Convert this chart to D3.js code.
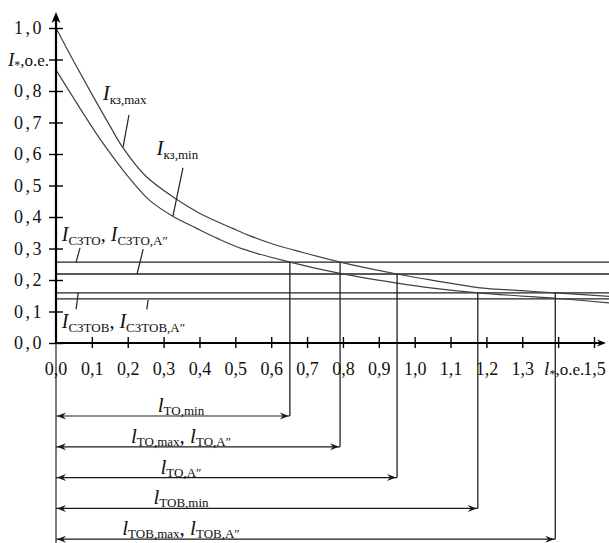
<!DOCTYPE html>
<html>
<head>
<meta charset="utf-8">
<title>Токи КЗ и зоны защиты</title>
<script src="https://d3js.org/d3.v7.min.js"></script>
<style>
  body { margin: 0; background: #fff; }
  svg text { font-family: "Liberation Serif", "Times New Roman", serif; fill: #111; }
</style>
</head>
<body>
<svg width="609" height="543"></svg>
<script>
// values: l* (o.e.) and I* (o.e.)
var lMax = [0, 0.05, 0.10, 0.15, 0.186, 0.25, 0.336, 0.40, 0.494, 0.541, 0.60, 0.68, 0.792, 0.951, 1.05, 1.176, 1.30, 1.392, 1.545];
var iMax = [1.000, 0.893, 0.790, 0.690, 0.621, 0.530, 0.456, 0.412, 0.363, 0.340, 0.316, 0.290, 0.257, 0.219, 0.199, 0.176, 0.166, 0.159, 0.148];

var lMin = [0, 0.067, 0.123, 0.20, 0.262, 0.322, 0.392, 0.45, 0.522, 0.652, 0.792, 0.951, 1.05, 1.176, 1.30, 1.392, 1.545];
var iMin = [0.867, 0.745, 0.647, 0.530, 0.452, 0.405, 0.364, 0.332, 0.298, 0.257, 0.221, 0.190, 0.174, 0.159, 0.149, 0.142, 0.127];

// settings currents (horizontal lines)
var levels = [0.257, 0.219, 0.159, 0.140];

// protection zones: length and the current level where the drop line starts
var zoneLen = [0.652, 0.792, 0.951, 1.176, 1.392];
var zoneLevel = [0.257, 0.257, 0.219, 0.159, 0.159];
var zoneSubs = [["ТО,min"], ["ТО,max", "ТО,A″"], ["ТО,A″"], ["ТОВ,min"], ["ТОВ,max", "ТОВ,A″"]];

var xTicks = [0, 0.1, 0.2, 0.3, 0.4, 0.5, 0.6, 0.7, 0.8, 0.9, 1.0, 1.1, 1.2, 1.3, 1.4, 1.5];
var xTickLabels = ["0,0", "0,1", "0,2", "0,3", "0,4", "0,5", "0,6", "0,7", "0,8", "0,9", "1,0", "1,1", "1,2", "1,3", "", "1,5"];
var yTicks = [0, 0.1, 0.2, 0.3, 0.4, 0.5, 0.6, 0.7, 0.8, 0.9, 1.0];
var yTickLabels = ["0,0", "0,1", "0,2", "0,3", "0,4", "0,5", "0,6", "0,7", "0,8", "", "1,0"];

var svg = d3.select("svg");
var x = d3.scaleLinear().domain([0, 1.5]).range([56, 594]);
var y = d3.scaleLinear().domain([0, 1]).range([343, 28]);

var rowY0 = 416, rowStep = 30.8;
var ink = "#1a1a1a";

// horizontal setting lines
svg.selectAll(".lvl").data(levels).enter().append("line")
  .attr("x1", x(0)).attr("x2", 609)
  .attr("y1", function(d) { return y(d); }).attr("y2", function(d) { return y(d); })
  .attr("stroke", "#222").attr("stroke-width", 1.3);

// curves
var line = d3.line()
  .x(function(d) { return x(d[0]); })
  .y(function(d) { return y(d[1]); })
  .curve(d3.curveCatmullRom.alpha(0.5));

svg.append("path").datum(d3.zip(lMax, iMax)).attr("d", line)
  .attr("fill", "none").attr("stroke", "#404040").attr("stroke-width", 1.2);
svg.append("path").datum(d3.zip(lMin, iMin)).attr("d", line)
  .attr("fill", "none").attr("stroke", "#404040").attr("stroke-width", 1.2);

// drop lines and dimension arrows
function head(tx, ty, dir) {
  return "M" + tx + "," + ty +
    "L" + (tx - dir * 9) + "," + (ty - 3.5) +
    "L" + (tx - dir * 6) + "," + ty +
    "L" + (tx - dir * 9) + "," + (ty + 3.5) + "Z";
}

zoneLen.forEach(function(l, i) {
  var ry = rowY0 + i * rowStep;
  svg.append("line")
    .attr("x1", x(l)).attr("x2", x(l))
    .attr("y1", y(zoneLevel[i])).attr("y2", ry)
    .attr("stroke", "#222").attr("stroke-width", 1.3);
  svg.append("line")
    .attr("x1", x(0)).attr("x2", x(l))
    .attr("y1", ry).attr("y2", ry)
    .attr("stroke", ink).attr("stroke-width", 1.2);
  svg.append("path").attr("d", head(x(0) + 1, ry, -1)).attr("fill", ink);
  svg.append("path").attr("d", head(x(l) - 1, ry, 1)).attr("fill", ink);
});

// axes
svg.append("line").attr("x1", x(0)).attr("x2", x(0)).attr("y1", y(0)).attr("y2", 543)
  .attr("stroke", "#222").attr("stroke-width", 1.2);
svg.append("line").attr("x1", x(0)).attr("x2", x(0)).attr("y1", y(0) + 1).attr("y2", 16)
  .attr("stroke", "#000").attr("stroke-width", 2.2);
svg.append("line").attr("x1", x(0) - 1).attr("x2", 602).attr("y1", y(0)).attr("y2", y(0))
  .attr("stroke", "#000").attr("stroke-width", 2.2);
svg.append("path").attr("d", "M" + x(0) + ",12L" + (x(0) - 4.5) + ",23L" + x(0) + ",20L" + (x(0) + 4.5) + ",23Z").attr("fill", "#000");
svg.append("path").attr("d", head(606, y(0), 1)).attr("fill", "#000");

var gx = svg.append("g").attr("transform", "translate(0," + y(0) + ")")
  .call(d3.axisBottom(x).tickValues(xTicks.slice(1)).tickSize(0)
    .tickFormat(function(d) { return xTickLabels[xTicks.indexOf(d)]; }));
gx.select(".domain").remove();
gx.selectAll(".tick line").attr("y1", -6).attr("y2", 5).attr("stroke", "#000").attr("stroke-width", 1.4);
gx.selectAll(".tick text").attr("y", 32).attr("dy", 0).attr("font-size", 18).attr("fill", "#111")
  .attr("font-family", "Liberation Serif, serif");
svg.append("text").attr("x", x(0)).attr("y", y(0) + 32).attr("text-anchor", "middle")
  .attr("font-size", 18).text(xTickLabels[0]);

var gy = svg.append("g").attr("transform", "translate(" + x(0) + ",0)")
  .call(d3.axisLeft(y).tickValues(yTicks).tickSize(0).tickPadding(12)
    .tickFormat(function(d) { return yTickLabels[yTicks.indexOf(d)]; }));
gy.select(".domain").remove();
gy.selectAll(".tick line").attr("x1", -7).attr("x2", 7).attr("stroke", "#000").attr("stroke-width", 1.4);
gy.selectAll(".tick text").attr("font-size", 18).attr("letter-spacing", "2.5px").attr("fill", "#111")
  .attr("font-family", "Liberation Serif, serif");

// rich labels: italic letter + subscript
function label(x0, y0, anchor, letter, subs, big, small, shift) {
  var t = svg.append("text").attr("x", x0).attr("y", y0).attr("text-anchor", anchor);
  subs.forEach(function(s, i) {
    if (i > 0) t.append("tspan").attr("font-size", big).attr("dy", -shift).text(",\u00a0");
    t.append("tspan").attr("font-size", big).attr("font-style", "italic").text(letter);
    t.append("tspan").attr("font-size", small).attr("dy", shift).text(s);
  });
  return t;
}

// axis titles
var ty = svg.append("text").attr("x", 49).attr("y", y(0.9) + 6).attr("text-anchor", "end");
ty.append("tspan").attr("font-size", 19).attr("font-style", "italic").text("I");
ty.append("tspan").attr("font-size", 12).attr("dy", 3).text("*");
ty.append("tspan").attr("font-size", 17).attr("dy", -3).text(",o.e.");

var tx = svg.append("text").attr("x", x(1.4) + 6).attr("y", y(0) + 32).attr("text-anchor", "middle");
tx.append("tspan").attr("font-size", 19).attr("font-style", "italic").text("l");
tx.append("tspan").attr("font-size", 12).attr("dy", 3).text("*");
tx.append("tspan").attr("font-size", 17).attr("dy", -3).text(",o.e.");

// curve labels with leaders
label(x(0.13), y(0.772), "start", "I", ["кз,max"], 21, 13, 4);
label(x(0.28), y(0.596), "start", "I", ["кз,min"], 21, 13, 4);
label(x(0.016), y(0.323), "start", "I", ["СЗТО", "СЗТО,A″"], 20, 13, 4);
label(x(0.016), y(0.048), "start", "I", ["СЗТОВ", "СЗТОВ,A″"], 20, 13, 4);

var leaders = [
  [[0.2035, 0.724], [0.187, 0.622]],
  [[0.354, 0.556], [0.326, 0.403]],
  [[0.067, 0.302], [0.056, 0.257]],
  [[0.243, 0.298], [0.226, 0.219]],
  [[0.062, 0.160], [0.056, 0.107]],
  [[0.257, 0.137], [0.253, 0.107]]
];
leaders.forEach(function(p) {
  svg.append("line")
    .attr("x1", x(p[0][0])).attr("y1", y(p[0][1]))
    .attr("x2", x(p[1][0])).attr("y2", y(p[1][1]))
    .attr("stroke", "#222").attr("stroke-width", 1.2);
});

// zone labels
zoneSubs.forEach(function(s, i) {
  label(181, rowY0 + i * rowStep - 4, "middle", "l", s, 21, 13, 3);
});
</script>
</body>
</html>
